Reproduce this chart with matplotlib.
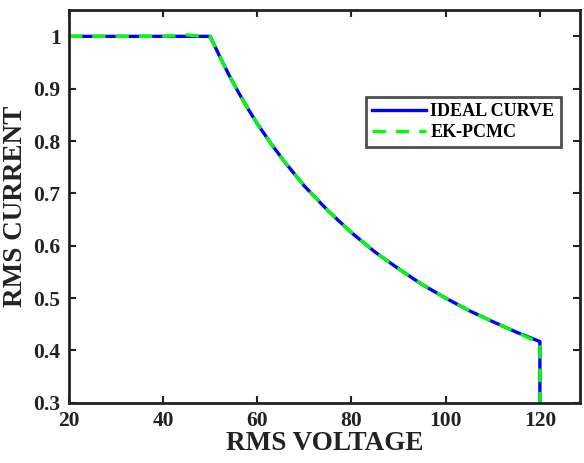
import matplotlib
matplotlib.use("Agg")
import matplotlib.pyplot as plt

# values
volt_ideal = [20, 50, 52, 54, 56, 58, 60, 63, 66, 70, 75, 80, 85, 90, 95, 100, 105,
              110, 115, 120, 120]
curr_ideal = [1.0, 1.0, 0.962, 0.926, 0.893, 0.862, 0.833, 0.794, 0.758, 0.714,
              0.667, 0.625, 0.588, 0.556, 0.526, 0.500, 0.476, 0.455, 0.435, 0.417,
              0.30]

volt_ek = [20, 40, 43, 45, 47, 50, 52, 54, 56, 58, 60, 63, 66, 70, 75, 80, 85, 90,
           95, 100, 105, 110, 115, 120, 120]
curr_ek = [1.0, 1.0, 1.001, 1.003, 1.001, 1.0, 0.962, 0.926, 0.893, 0.862, 0.833,
           0.794, 0.758, 0.714, 0.667, 0.625, 0.588, 0.556, 0.526, 0.500, 0.476,
           0.455, 0.435, 0.414, 0.30]

xticks = [20, 40, 60, 80, 100, 120]
yticks = [0.3, 0.4, 0.5, 0.6, 0.7, 0.8, 0.9, 1.0]
ytick_labels = ["0.3", "0.4", "0.5", "0.6", "0.7", "0.8", "0.9", "1"]

plt.rcParams["font.family"] = ["Liberation Serif", "DejaVu Serif"]
plt.rcParams["font.weight"] = "bold"

fig = plt.figure(figsize=(5.84, 4.63), dpi=100)
ax = fig.add_axes([0.118, 0.130, 0.875, 0.848])

ax.plot(volt_ideal, curr_ideal, color="#0000ff", lw=2.4, label="IDEAL CURVE")
ax.plot(volt_ek, curr_ek, color="#00ff00", lw=2.4, ls=(0, (4, 3)), label="EK-PCMC")

ax.set_xlim(20, 128.5)
ax.set_ylim(0.3, 1.05)
ax.set_xticks(xticks)
ax.set_yticks(yticks)
ax.set_yticklabels(ytick_labels)
ax.tick_params(direction="in", length=5, width=1.5, top=True, right=True,
               labelsize=15.5, pad=6, colors="#222222")
for s in ax.spines.values():
    s.set_linewidth(2.0)
    s.set_color("#222222")

ax.set_xlabel("RMS VOLTAGE", fontsize=19.5, fontweight="bold", color="#222222", labelpad=0)
ax.set_ylabel("RMS CURRENT", fontsize=19.5, fontweight="bold", color="#222222", labelpad=4)

leg = ax.legend(loc="upper right", bbox_to_anchor=(0.98, 0.802), fontsize=13,
                frameon=True, fancybox=False, edgecolor="#222222",
                handlelength=2.95, borderpad=0.35, labelspacing=0.2, handletextpad=0.25)
leg.get_frame().set_linewidth(2.0)
for t in leg.get_texts():
    t.set_fontweight("bold")

fig.savefig("out.png", dpi=100)
